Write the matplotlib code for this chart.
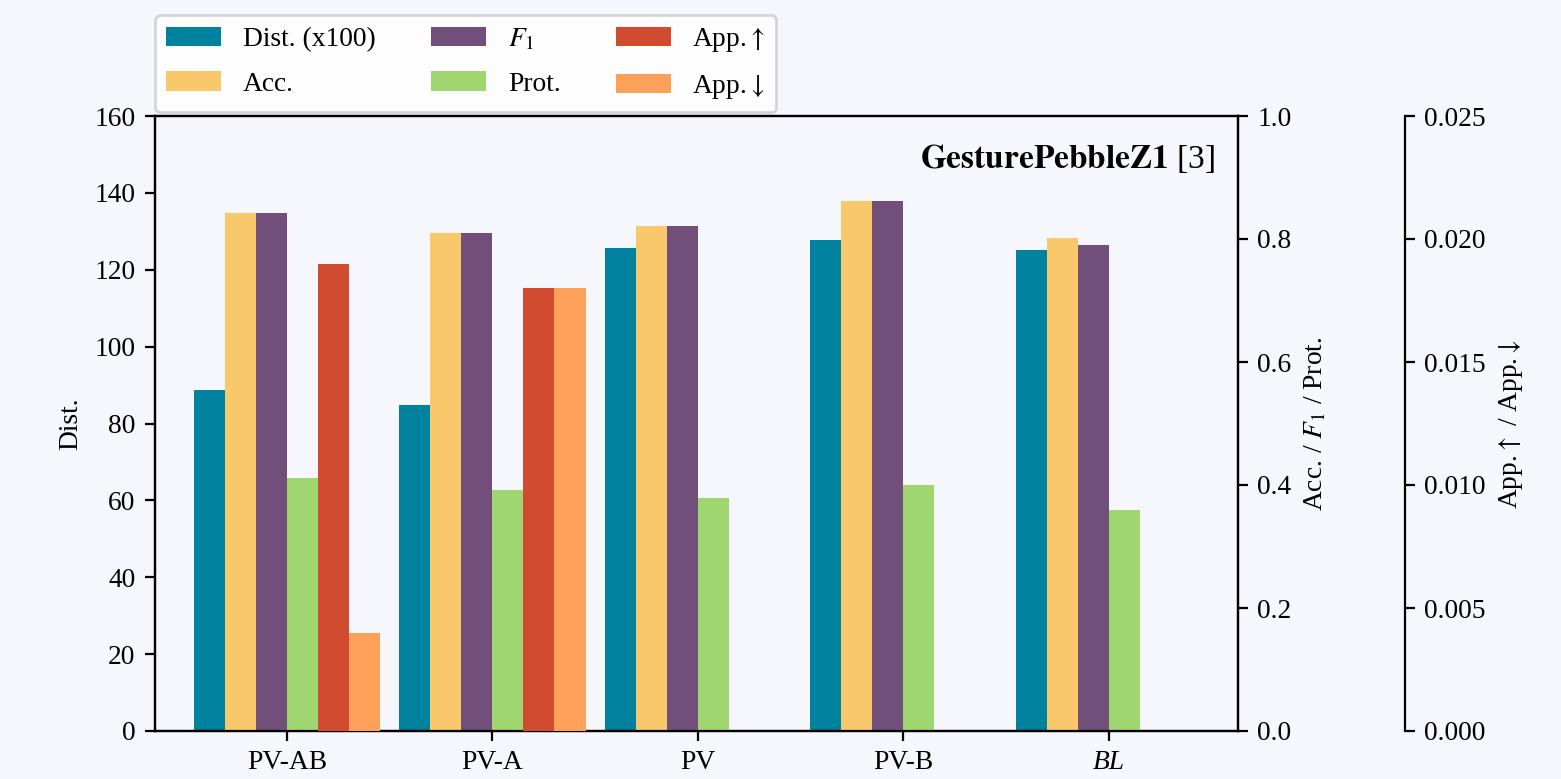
import numpy as np
import matplotlib
matplotlib.use("Agg")
import matplotlib.pyplot as plt

# ---- data ----
categories = ["PV-AB", "PV-A", "PV", "PV-B", "BL"]
dist = [88.8, 84.9, 125.7, 127.8, 125.2]
acc = [0.843, 0.810, 0.821, 0.862, 0.802]
f1 = [0.843, 0.810, 0.821, 0.862, 0.791]
prot = [0.412, 0.392, 0.379, 0.400, 0.360]
app_up = [0.0190, 0.0180, np.nan, np.nan, np.nan]
app_down = [0.0040, 0.0180, np.nan, np.nan, np.nan]

dist_ticks = [0, 20, 40, 60, 80, 100, 120, 140, 160]
score_ticks = [0.0, 0.2, 0.4, 0.6, 0.8, 1.0]
app_ticks = [0.000, 0.005, 0.010, 0.015, 0.020, 0.025]

labels = ["Dist. (x100)", "Acc.", r"$F_1$", "Prot.", r"App.$\uparrow$", r"App.$\downarrow$"]
colors = ["#00829f", "#f8c86b", "#724f7a", "#9fd66f", "#d14b30", "#fda05a"]

bg = "#f6f7fc"
plt.rcParams.update({
    "font.family": ["Liberation Serif", "DejaVu Serif"],
    "font.size": 9.9,
    "mathtext.fontset": "stix",
})

fig = plt.figure(figsize=(15.61 / 2, 7.79 / 2), dpi=200, facecolor=bg)
ax = fig.add_axes([155 / 1561, 1 - 731 / 779, (1238 - 155) / 1561, (731 - 116) / 779])
ax.set_facecolor(bg)
ax2 = ax.twinx()
ax3 = ax.twinx()
ax3.spines["right"].set_position(("axes", (1405 - 155) / (1238 - 155)))
for s in ["top", "left", "bottom"]:
    ax3.spines[s].set_visible(False)

x = np.arange(len(categories))
w = 0.151
series = [(ax, dist), (ax2, acc), (ax2, f1), (ax2, prot), (ax3, app_up), (ax3, app_down)]
handles = []
for i, ((a, vals), c, lab) in enumerate(zip(series, colors, labels)):
    h = a.bar(x + (i - 3) * w, vals, width=w, align="edge", color=c, label=lab)
    handles.append(h)

ax.set_xlim(-0.642, 4.628)
ax.set_ylim(0, 160)
ax.set_yticks(dist_ticks)
ax2.set_ylim(0, 1.0)
ax2.set_yticks(score_ticks)
ax2.set_yticklabels([f"{t:.1f}" for t in score_ticks])
ax3.set_ylim(0, 0.025)
ax3.set_yticks(app_ticks)
ax3.set_yticklabels([f"{t:.3f}" for t in app_ticks])

ax.set_xticks(x)
ax.set_xticklabels(categories)
ax.get_xticklabels()[4].set_style("italic")

ax.set_ylabel("Dist.")
ax2.set_ylabel(r"Acc. / $F_1$ / Prot.")
ax3.set_ylabel(r"App.$\uparrow$ / App.$\downarrow$")

ax.text(0.979, 0.958, r"$\mathbf{GesturePebbleZ1}$ [3]", transform=ax.transAxes,
        ha="right", va="top", fontsize=12)

ax.legend(handles=handles, labels=labels, ncol=3, loc="lower left",
          bbox_to_anchor=(0, 1.006), borderaxespad=0.0, labelspacing=0.7)

fig.savefig("out.png", dpi=200, facecolor=bg)
